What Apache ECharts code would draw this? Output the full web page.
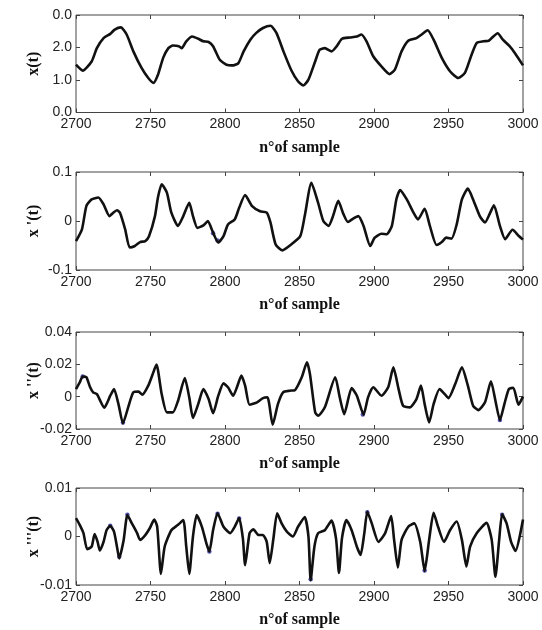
<!DOCTYPE html>
<html>
<head>
<meta charset="utf-8">
<script src="https://cdn.jsdelivr.net/npm/echarts@6/dist/echarts.min.js"></script>
<style>html,body{margin:0;padding:0;background:#fff}#c{width:542px;height:630px}</style>
</head>
<body>
<div id="c"></div>
<script>
// ---- data ----
const xTicks = [2700, 2750, 2800, 2850, 2900, 2950, 3000];
const xTitle = "n\u00B0of sample";

const yNames = ["x(t)", "x '(t)", "x ''(t)", "x '''(t)"];

const yTicks1 = [0, 1, 2, 3];
const yTickLabels1 = ["0.0", "1.0", "2.0", "0.0"];
const yTicks2 = [-0.1, 0, 0.1];
const yTickLabels2 = ["-0.1", "0", "0.1"];
const yTicks3 = [-0.02, 0, 0.02, 0.04];
const yTickLabels3 = ["-0.02", "0", "0.02", "0.04"];
const yTicks4 = [-0.01, 0, 0.01];
const yTickLabels4 = ["-0.01", "0", "0.01"];

const samples1 = [2700,2704.5,2710.5,2714,2718.5,2723,2726,2730,2734,2738.5,2744,2748.5,2752,2755,2758.5,2762,2765,2769,2771,2774,2778,2782,2785.5,2789,2792,2796.5,2801,2805.5,2809,2812.5,2817,2821,2825.5,2830.5,2834.5,2839.5,2844.5,2849,2852.5,2856,2860.5,2863.5,2867,2871.5,2875,2878.5,2884,2888.5,2891.5,2895,2899.5,2905,2910.5,2914,2918.5,2923,2928.5,2932,2936,2940,2945.5,2951,2956.5,2961,2965.5,2969,2973.5,2977,2979,2983,2986.5,2991,2994.5,3000];
const values1 = [1.47,1.29,1.57,1.98,2.29,2.42,2.55,2.62,2.40,1.88,1.37,1.06,0.91,1.16,1.68,1.98,2.06,2.04,1.98,2.19,2.34,2.27,2.19,2.17,2.04,1.62,1.47,1.45,1.52,1.88,2.24,2.45,2.60,2.67,2.45,1.85,1.30,0.96,0.83,1.01,1.57,1.93,1.98,1.88,2.04,2.27,2.31,2.34,2.40,2.19,1.73,1.42,1.18,1.32,1.88,2.21,2.29,2.40,2.53,2.24,1.68,1.27,1.06,1.22,1.78,2.14,2.19,2.21,2.29,2.44,2.24,2.04,1.83,1.45];

const samples2 = [2700,2704,2707,2710.5,2715,2718.5,2722.5,2725,2727.5,2729.5,2733,2736,2739.5,2743,2746.5,2749,2753,2755,2757.5,2761,2764,2768.5,2772,2776,2778.5,2781.5,2785.5,2788.5,2791.5,2795.5,2799,2802,2806.5,2809.5,2813.5,2818,2823.5,2828,2830.5,2834,2838.5,2844,2850.5,2853.5,2858,2862.5,2866,2869.5,2872.5,2876,2879.5,2882.5,2886,2889.5,2893,2897.5,2900.5,2905,2908.5,2912,2915,2917.5,2922,2926.5,2929.5,2934,2937.5,2942,2945.5,2948.5,2952,2955.5,2959,2963,2966.5,2971,2974.5,2978,2980.5,2984.5,2988,2993,2997,3000];
const values2 = [-0.041,-0.017,0.031,0.044,0.048,0.034,0.010,0.017,0.022,0.017,-0.017,-0.054,-0.051,-0.043,-0.041,-0.031,0.010,0.048,0.075,0.058,0.017,-0.010,0.010,0.037,0.010,-0.014,-0.009,0.000,-0.020,-0.044,-0.031,-0.007,0.003,0.027,0.053,0.031,0.020,0.017,-0.003,-0.048,-0.060,-0.049,-0.031,0.010,0.078,0.037,0.000,-0.010,0.010,0.041,0.014,-0.002,0.005,0.010,-0.010,-0.051,-0.034,-0.026,-0.027,-0.010,0.044,0.063,0.044,0.017,0.003,0.025,-0.010,-0.049,-0.043,-0.034,-0.036,-0.007,0.044,0.066,0.044,0.010,-0.003,0.017,0.032,-0.010,-0.037,-0.018,-0.030,-0.038];

const samples3 = [2700,2702.5,2704.5,2707,2709.5,2711.5,2714,2719,2723,2725.5,2728.5,2731.5,2735,2738.5,2742,2744.5,2748.5,2751.5,2754,2757.5,2761,2765,2768.5,2773,2776,2778.5,2782,2785.5,2789,2792,2795.5,2799,2802,2805.5,2808,2811,2813.5,2816.5,2821.5,2825.5,2828.5,2832,2835.5,2839,2843.5,2847,2851.5,2855,2857,2860.5,2862.5,2867,2874,2877,2880,2885,2888.5,2893,2896,2899.5,2905,2909.5,2913,2916.5,2919.5,2924,2928.5,2931.5,2934,2937,2940,2944,2947.5,2950,2954.5,2959,2963,2966.5,2970,2974.5,2978.5,2981.5,2984.5,2987.5,2990.5,2993.5,2997,3000];
const values3 = [0.0047,0.0089,0.0124,0.0120,0.0058,0.0027,0.0016,-0.0068,0.0006,0.0047,-0.0046,-0.0165,-0.0066,0.0027,0.0031,0.0012,0.0068,0.0140,0.0198,0.0016,-0.0097,-0.0097,-0.0025,0.0115,-0.0004,-0.0132,-0.0046,0.0047,-0.0015,-0.0103,0.0006,0.0082,0.0058,0.0006,0.0058,0.0130,0.0068,-0.0050,-0.0035,-0.0009,-0.0004,-0.0173,-0.0046,0.0027,0.0037,0.0041,0.0120,0.0212,0.0140,-0.0097,-0.0118,-0.0066,0.0120,-0.0004,-0.0108,0.0053,0.0006,-0.0111,-0.0004,0.0058,0.0006,0.0058,0.0181,0.0047,-0.0056,-0.0066,-0.0015,0.0068,-0.0046,-0.0159,-0.0046,0.0047,0.0016,-0.0009,0.0078,0.0181,0.0068,-0.0056,-0.0083,-0.0035,0.0095,-0.0025,-0.0145,-0.0046,0.0047,0.0055,-0.0050,0.0000];

const samples4 = [2700,2702.5,2705,2707.5,2710.5,2712.5,2714.5,2716,2718.5,2720.5,2723,2725.5,2727.5,2729,2732,2734.5,2737.5,2741,2743,2746.5,2749.5,2752.5,2754.5,2757,2759.5,2764,2768.5,2772,2774,2776,2778.5,2781,2784.5,2787.5,2789.5,2792,2795,2799,2803.5,2806.5,2809.5,2812,2813.5,2816.5,2819,2822.5,2825.5,2828,2830,2832.5,2835,2838,2841.5,2845.5,2849,2853.5,2856,2857.5,2860,2862.5,2867,2871.5,2874.5,2876.5,2878.5,2881.5,2885,2888.5,2891,2893.5,2895.5,2898.5,2903,2907.5,2911.5,2913.5,2916,2918.5,2923,2927,2931,2934,2937,2940,2943,2947,2951,2955.5,2959,2962,2964.5,2969,2975.5,2979,2981.5,2984,2986,2989,2992,2995,3000];
const values4 = [0.0038,0.0024,0.0007,-0.0026,-0.0021,0.0005,-0.0011,-0.0029,-0.0011,0.0013,0.0022,0.0010,-0.0021,-0.0045,-0.0007,0.0044,0.0027,0.0007,-0.0007,0.0003,0.0017,0.0035,0.0020,-0.0077,-0.0021,0.0013,0.0024,0.0034,-0.0021,-0.0077,0.0000,0.0044,0.0020,-0.0014,-0.0031,0.0013,0.0048,0.0020,0.0007,0.0020,0.0038,-0.0004,-0.0059,0.0007,0.0015,0.0003,0.0003,-0.0011,-0.0055,-0.0004,0.0048,0.0027,0.0010,0.0000,0.0020,0.0040,0.0000,-0.0090,-0.0021,0.0007,0.0013,0.0033,-0.0004,-0.0075,-0.0004,0.0034,0.0013,-0.0021,-0.0038,0.0007,0.0051,0.0027,-0.0011,0.0007,0.0042,-0.0007,-0.0064,-0.0007,0.0020,0.0027,-0.0011,-0.0071,-0.0007,0.0049,0.0020,-0.0011,0.0013,0.0031,-0.0007,-0.0062,-0.0021,0.0007,0.0028,-0.0007,-0.0083,-0.0007,0.0046,0.0027,-0.0011,-0.0030,0.0035];

// faint blue points visible at some extremes
const blueSamples2 = [2792, 2795];
const blueValues2 = [-0.025, -0.040];
const blueSamples3 = [2704.5, 2731.5, 2892.5, 2984.5];
const blueValues3 = [0.0124, -0.0160, -0.0110, -0.0145];
const blueSamples4 = [2723, 2729, 2734.5, 2789.5, 2795, 2809.5, 2857.5, 2895.5, 2934, 2986];
const blueValues4 = [0.0022, -0.0042, 0.0045, -0.0031, 0.0047, 0.0037, -0.0088, 0.0050, -0.0070, 0.0045];

// ---- chart ----
const panels = [
  {s: samples1, v: values1, ticks: yTicks1, labels: yTickLabels1, bs: [], bv: []},
  {s: samples2, v: values2, ticks: yTicks2, labels: yTickLabels2, bs: blueSamples2, bv: blueValues2},
  {s: samples3, v: values3, ticks: yTicks3, labels: yTickLabels3, bs: blueSamples3, bv: blueValues3},
  {s: samples4, v: values4, ticks: yTicks4, labels: yTickLabels4, bs: blueSamples4, bv: blueValues4}
];
const gridTops = [15, 172, 332, 488];
const gridH = [97.5, 98, 97, 97];

const tickFont = {fontFamily: "'Liberation Sans Narrow','Arial Narrow','Liberation Sans',Arial,sans-serif", fontSize: 14, color: '#222'};
const titleFont = {fontFamily: "'Liberation Serif','Times New Roman',serif", fontSize: 16, fontWeight: 'bold', color: '#111'};

const grid = [], xAxis = [], yAxis = [], series = [];
panels.forEach((p, i) => {
  grid.push({left: 76, width: 447, top: gridTops[i], height: gridH[i], show: true, borderColor: '#444', borderWidth: 1, containLabel: false});
});
const xStep = xTicks[1] - xTicks[0];
panels.forEach((p, i) => {
  xAxis.push({
    type: 'value', gridIndex: i, position: 'bottom', min: xTicks[0], max: xTicks[xTicks.length - 1], interval: xStep,
    name: xTitle, nameLocation: 'middle', nameGap: 27, nameTextStyle: titleFont,
    axisLine: {show: false, onZero: false}, axisTick: {inside: true, length: 4, lineStyle: {color: '#444'}},
    axisLabel: Object.assign({margin: 5, formatter: (v) => String(v)}, tickFont), splitLine: {show: false}
  });
});
panels.forEach((p, i) => {
  xAxis.push({
    type: 'value', gridIndex: i, position: 'top', min: xTicks[0], max: xTicks[xTicks.length - 1], interval: xStep,
    axisLine: {show: false, onZero: false}, axisTick: {inside: true, length: 4, lineStyle: {color: '#444'}},
    axisLabel: {show: false}, splitLine: {show: false}
  });
});
panels.forEach((p, i) => {
  const mn = p.ticks[0], mx = p.ticks[p.ticks.length - 1], step = p.ticks[1] - p.ticks[0];
  yAxis.push({
    type: 'value', gridIndex: i, position: 'left', min: mn, max: mx, interval: step,
    name: yNames[i], nameLocation: 'middle', nameRotate: 90, nameGap: 34, nameMoveOverlap: false, nameTextStyle: titleFont,
    axisLine: {show: false, onZero: false}, axisTick: {inside: true, length: 4, lineStyle: {color: '#444'}},
    axisLabel: Object.assign({margin: 4, formatter: (v) => p.labels[Math.round((v - mn) / step)]}, tickFont),
    splitLine: {show: false}
  });
});
panels.forEach((p, i) => {
  const mn = p.ticks[0], mx = p.ticks[p.ticks.length - 1], step = p.ticks[1] - p.ticks[0];
  yAxis.push({
    type: 'value', gridIndex: i, position: 'right', min: mn, max: mx, interval: step,
    axisLine: {show: false, onZero: false}, axisTick: {inside: true, length: 4, lineStyle: {color: '#444'}},
    axisLabel: {show: false}, splitLine: {show: false}
  });
});
panels.forEach((p, i) => {
  if (p.bs.length) {
    series.push({
      type: 'scatter', xAxisIndex: i, yAxisIndex: i, z: 1, symbolSize: 4.5,
      itemStyle: {color: '#3434a0', opacity: 0.85}, silent: true,
      data: p.bs.map((s, k) => [s, p.bv[k]])
    });
  }
  series.push({
    type: 'line', xAxisIndex: i, yAxisIndex: i, z: 2, showSymbol: false, smooth: 0.2,
    lineStyle: {color: '#111', width: 2.6}, silent: true,
    data: p.s.map((s, k) => [s, p.v[k]])
  });
});

const chart = echarts.init(document.getElementById('c'), null, {renderer: 'canvas'});
chart.setOption({animation: false, backgroundColor: '#fff', grid, xAxis, yAxis, series});
</script>
</body>
</html>
